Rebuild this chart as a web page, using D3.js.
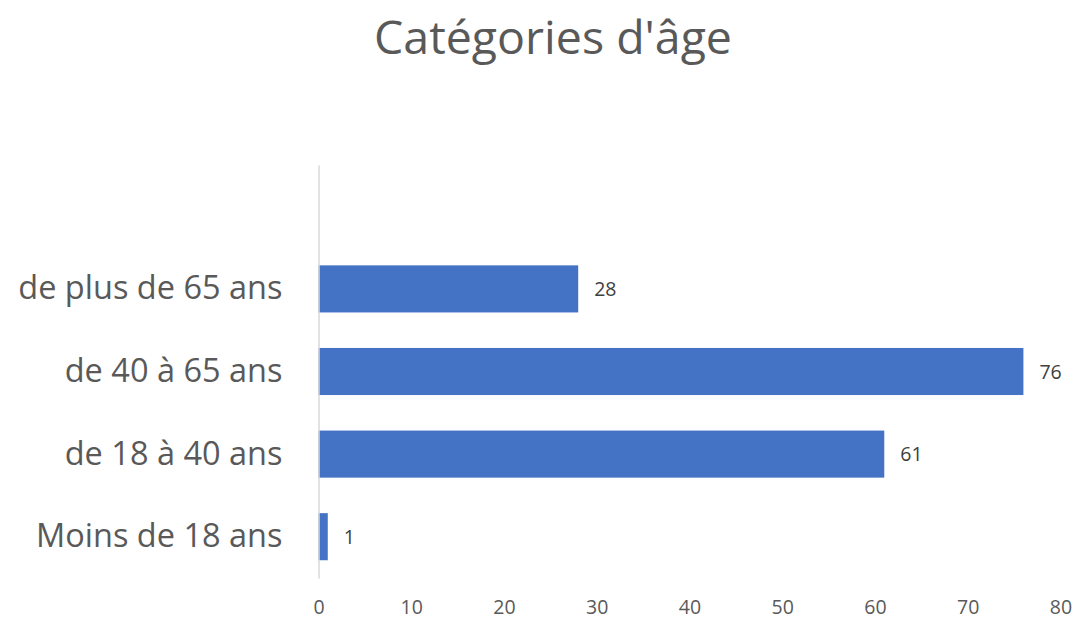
<!DOCTYPE html>
<html>
<head>
<meta charset="utf-8">
<script src="https://cdn.jsdelivr.net/npm/d3@7"></script>
<style>
  body { margin: 0; background: #fff; }
  text { font-family: "Open Sans", sans-serif; }
</style>
</head>
<body>
<div id="chart"></div>
<script>
const categories = ["Moins de 18 ans", "de 18 à 40 ans", "de 40 à 65 ans", "de plus de 65 ans", ""];
const values = [1, 61, 76, 28, null];
const xTicks = [0, 10, 20, 30, 40, 50, 60, 70, 80];
const title = "Catégories d'âge";

const width = 1077, height = 619;
const margin = { top: 165, right: 17, bottom: 41, left: 318.5 };

const svg = d3.select("#chart")
    .append("svg")
    .attr("width", width)
    .attr("height", height);

svg.append("text")
    .attr("x", 553)
    .attr("y", 54)
    .attr("text-anchor", "middle")
    .attr("font-size", 46.5)
    .attr("fill", "#595959")
    .text(title);

const x = d3.scaleLinear()
    .domain([0, 80])
    .range([margin.left, margin.left + 742]);

const y = d3.scaleBand()
    .domain(categories.slice().reverse())
    .range([margin.top, height - margin.bottom])
    .paddingInner(0.43)
    .paddingOuter(0.215);

const rows = categories.map(function (c, i) { return { cat: c, val: values[i] }; })
    .filter(function (d) { return d.val != null; });

svg.selectAll("rect.bar")
    .data(rows)
    .enter()
    .append("rect")
    .attr("class", "bar")
    .attr("x", x(0))
    .attr("y", function (d) { return y(d.cat); })
    .attr("width", function (d) { return x(d.val) - x(0); })
    .attr("height", y.bandwidth())
    .attr("fill", "#4472c4");

svg.selectAll("text.val")
    .data(rows)
    .enter()
    .append("text")
    .attr("class", "val")
    .attr("x", function (d) { return x(d.val) + 16; })
    .attr("y", function (d) { return y(d.cat) + y.bandwidth() / 2; })
    .attr("dy", "0.36em")
    .attr("font-size", 19.5)
    .attr("fill", "#404040")
    .text(function (d) { return d.val; });

// x axis: labels only
const xAxis = svg.append("g")
    .attr("transform", "translate(0," + (height - margin.bottom) + ")")
    .call(d3.axisBottom(x).tickValues(xTicks).tickSize(0).tickPadding(22));
xAxis.select(".domain").remove();
xAxis.selectAll("text")
    .attr("font-size", 19.5)
    .attr("fill", "#595959")
    .style("font-family", "'Open Sans', sans-serif");

// y axis: line + category labels
const yAxis = svg.append("g")
    .attr("transform", "translate(" + x(0) + ",0)")
    .call(d3.axisLeft(y).tickSize(0).tickPadding(36));
yAxis.select(".domain")
    .attr("stroke", "#d9d9d9")
    .attr("stroke-width", 1.5);
yAxis.selectAll("text")
    .attr("font-size", 32.5)
    .attr("fill", "#595959")
    .style("font-family", "'Open Sans', sans-serif");
</script>
</body>
</html>
